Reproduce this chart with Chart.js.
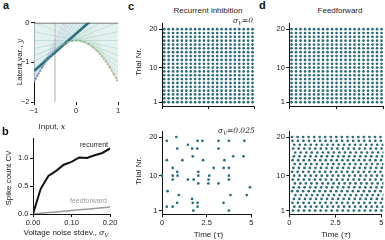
<!DOCTYPE html>
<html lang="en">
<head>
<meta charset="UTF-8">
<title>Recurrent inhibition vs feedforward</title>
<script src="https://cdn.jsdelivr.net/npm/chart.js@4.4.1/dist/chart.umd.min.js"></script>
<style>
  body { margin: 0; width: 385px; height: 240px; position: relative; background: #fff; overflow: hidden;
         font-family: 'Liberation Sans', Arial, sans-serif; color: #222; }
  canvas { position: absolute; }
  .t { position: absolute; white-space: nowrap; font-size: 8px; line-height: 1; }
  .c { transform: translate(-50%, -50%); }
  .v { transform: translate(-50%, -50%) rotate(-90deg); }
  .h { transform: translateX(-50%); }
  .lbl { position: absolute; font-weight: bold; font-size: 11px; line-height: 1; color: #111; }
  .m { font-family: 'DejaVu Serif', 'Liberation Serif', serif; font-style: italic; }
  sub { font-size: 70%; vertical-align: -1.5px; line-height: 0; }
</style>
</head>
<body>
<canvas id="pa" style="left:0;top:15px" width="125" height="116"></canvas>
<canvas id="pb" style="left:0;top:130px" width="125" height="109"></canvas>
<canvas id="pc1" style="left:125px;top:15px" width="130" height="97"></canvas>
<canvas id="pc2" style="left:125px;top:120px" width="130" height="120"></canvas>
<canvas id="pd1" style="left:255px;top:15px" width="130" height="97"></canvas>
<canvas id="pd2" style="left:255px;top:120px" width="130" height="120"></canvas>

<div class="lbl" style="left:3px;top:0px">a</div>
<div class="lbl" style="left:2px;top:126px">b</div>
<div class="lbl" style="left:128px;top:1px">c</div>
<div class="lbl" style="left:259px;top:0px">d</div>

<div class="t h" style="left:208px;top:6.5px">Recurrent inhibition</div>
<div class="t h" style="left:340px;top:6.5px">Feedforward</div>

<div class="t v" style="left:19.5px;top:62px">Latent var., <span class="m">y</span></div>
<div class="t c" style="left:52px;top:126.5px">Input, <span class="m">x</span></div>
<div class="t v" style="left:8.5px;top:178px">Spike count CV</div>
<div class="t c" style="left:66px;top:233px">Voltage noise stdev., <span class="m">σ<sub>V</sub></span></div>
<div class="t" style="left:80px;top:141px;font-size:7px">recurrent</div>
<div class="t" style="left:70px;top:197px;font-size:7px;color:#9a9a9a">feedforward</div>

<div class="t v" style="left:138.5px;top:62px">Trial Nr.</div>
<div class="t v" style="left:138.5px;top:171px">Trial Nr.</div>
<div class="t c" style="left:208.5px;top:235px">Time (<span class="m">τ</span>)</div>
<div class="t c" style="left:336px;top:235px">Time (<span class="m">τ</span>)</div>
<div class="t m" style="right:132px;top:17px;font-size:7.5px">σ<sub>V</sub>=0</div>
<div class="t m" style="left:218px;top:127px;font-size:7.5px">σ<sub>V</sub>=0.025</div>

<script>
// ---- panel a: concave readout curve, its tangents and the chosen readout line
const inputX = [-1, -0.9, -0.8, -0.7, -0.6, -0.5, -0.4, -0.3, -0.2, -0.1, 0, 0.1, 0.2, 0.3, 0.4, 0.5, 0.6, 0.7, 0.8, 0.9, 1];
const latentY = [-1.5, -1.3, -1.12, -0.96, -0.83, -0.71, -0.62, -0.54, -0.49, -0.46, -0.45, -0.46, -0.49, -0.54, -0.62, -0.71, -0.83, -0.96, -1.12, -1.3, -1.5];
// tangent at each curve point, value at x=-1 and at x=+1
const tangentAtLeft = [-1.5, -1.49, -1.46, -1.41, -1.33, -1.24, -1.12, -0.99, -0.83, -0.65, -0.45, -0.23, 0.01, 0.27, 0.56, 0.86, 1.19, 1.53, 1.90, 2.29, 2.70];
const tangentAtRight = [2.70, 2.29, 1.90, 1.53, 1.19, 0.86, 0.56, 0.27, 0.01, -0.23, -0.45, -0.65, -0.83, -0.99, -1.12, -1.24, -1.33, -1.41, -1.46, -1.49, -1.5];
const readoutX = [-1, 1];
const readoutY = [-1.22, 0.66];
const markerX = -0.5;

// ---- panel b: spike count CV vs voltage noise
const noiseSd = [0, 0.02, 0.04, 0.06, 0.08, 0.10, 0.12, 0.14, 0.16, 0.18, 0.20];
const cvRecurrent = [0, 0.45, 0.68, 0.77, 0.88, 0.93, 1.01, 1.00, 1.05, 1.09, 1.17];
const cvFeedforward = [0, 0.012, 0.025, 0.037, 0.05, 0.062, 0.075, 0.087, 0.1, 0.112, 0.125];

// ---- rasters
const trials = [1, 2, 3, 4, 5, 6, 7, 8, 9, 10, 11, 12, 13, 14, 15, 16, 17, 18, 19, 20];
const regularTimes = [0.12, 0.36, 0.6, 0.84, 1.08, 1.32, 1.56, 1.8, 2.04, 2.28, 2.52, 2.76, 3.0, 3.24, 3.48, 3.72, 3.96, 4.2, 4.44, 4.68, 4.92];
// recurrent, sigma_V = 0.025
const sparseTimes = [0.27, 0.80, 0.85, 1.45, 1.68, 1.99, 2.26, 1.97, 3.16, 3.74, 4.61, 3.16,
  0.27, 1.14, 1.72, 2.30, 3.49, 3.98, 4.56, 0.60, 2.89, 3.45, 3.74, 0.85, 2.03,
  0.00, 0.60, 0.87, 2.03, 2.64, 3.74, 0.60, 1.45, 1.77, 2.60, 3.74, 2.03, 2.59, 3.16,
  4.92, 0.31, 0.94, 3.83, 4.74, 1.68, 0.85, 1.72, 1.99, 3.44, 0.27, 0.60, 1.99, 1.75, 3.74];
const sparseTrials = [19, 20, 17, 18, 17, 19, 19, 17, 19, 19, 19, 17,
  14, 14, 15, 14, 14, 15, 15, 12, 12, 12, 12, 11, 11,
  10, 10, 10, 10, 10, 10, 9, 9, 9, 9, 9, 8, 8, 8,
  7, 6, 5, 5, 5, 4, 3, 3, 3, 3, 2, 2, 2, 1, 1];
// feedforward, sigma_V = 0.025: same regular train, shifted per trial
const noisyTimes = [0.15, 0.45, 0.75, 1.05, 1.35, 1.65, 1.95, 2.25, 2.55, 2.85, 3.15, 3.45, 3.75, 4.05, 4.35, 4.65, 4.95];
const noisyShift = [0.05, 0.12, 0.02, 0.1, 0.18, 0.0, 0.08, 0.15, 0.04, 0.11, 0.0, 0.07, 0.14, 0.03, 0.1, 0.17, 0.06, 0.12, 0.02, 0.0];

const DOT = '#286c7d';
const INK = '#111';

function tick(size) {
  return { color: '#222', font: { size: size || 7.5 }, padding: 1.5, maxRotation: 0, autoSkip: false };
}
function axis(min, max, ticks, fmt, extra) {
  return Object.assign({
    type: 'linear', min: min, max: max,
    border: { display: true, color: INK, width: 1 },
    grid: { display: true, drawOnChartArea: false, drawTicks: true, tickLength: 3, color: INK, lineWidth: 1 },
    ticks: Object.assign(tick(), { callback: fmt }),
    afterBuildTicks: s => { s.ticks = ticks.map(v => ({ value: v })); }
  }, extra || {});
}
function makeChart(id, box, datasets, xAxis, yAxis) {
  xAxis.afterFit = s => { s.height = box.xh; };
  yAxis.afterFit = s => { s.width = box.yw; };
  return new Chart(document.getElementById(id), {
    type: 'line',
    data: { datasets: datasets },
    options: {
      responsive: false, animation: false, devicePixelRatio: 1,
      layout: { autoPadding: false, padding: { top: box.pt, right: box.pr, left: 0, bottom: 0 } },
      plugins: { legend: { display: false }, tooltip: { enabled: false } },
      scales: { x: xAxis, y: yAxis }
    }
  });
}
const minus = v => String(v).replace('-', '\u2212');

// ---------- panel a
function mix(a, b, f) { return a.map((c, i) => Math.round(c + (b[i] - c) * f)); }
function tangentColor(i, alpha) {
  const f = i / (inputX.length - 1);
  const c = f < 0.5 ? mix([120, 120, 205], [100, 170, 165], f * 2) : mix([100, 170, 165], [175, 215, 155], (f - 0.5) * 2);
  return 'rgba(' + c.join(',') + ',' + alpha + ')';
}
function curveColor(i) {
  const f = i / (inputX.length - 1);
  const c = f < 0.5 ? mix([110, 125, 185], [130, 190, 125], f * 2) : mix([130, 190, 125], [195, 160, 130], (f - 0.5) * 2);
  return 'rgb(' + c.join(',') + ')';
}
const curvePts = inputX.map((x, i) => ({ x: x, y: latentY[i] }));
const aSets = [];
aSets.push({ data: curvePts, fill: 'end', backgroundColor: 'rgba(218,238,235,0.75)', borderWidth: 0, pointRadius: 0 });
aSets.push({ data: [{ x: markerX, y: -2 }, { x: markerX, y: 0 }], borderColor: '#d6d6d6', borderWidth: 2, pointRadius: 0 });
inputX.forEach((x, i) => {
  aSets.push({ data: [{ x: -1, y: tangentAtLeft[i] }, { x: 1, y: tangentAtRight[i] }],
    borderColor: tangentColor(i, 0.4), borderWidth: 0.7, pointRadius: 0 });
});
aSets.push({ data: readoutX.map((x, i) => ({ x: x, y: readoutY[i] })), borderColor: '#2a6f7f', borderWidth: 2.6, pointRadius: 0 });
aSets.push({ data: curvePts, borderWidth: 1.7, borderDash: [1.6, 1.6], pointRadius: 0,
  segment: { borderColor: ctx => curveColor(ctx.p0DataIndex) } });
aSets.push({ data: [{ x: -1, y: 0 }, { x: 1, y: 0 }], borderColor: '#555', borderWidth: 1.8, pointRadius: 0 });
aSets.reverse();

makeChart('pa', { pt: 7.7, pr: 7, yw: 34, xh: 29 }, aSets,
  axis(-1, 1, [-1, 0, 1], minus, { border: { display: false } }),
  axis(-2, 0, [-2, -1, 0], minus));

// ---------- panel b
makeChart('pb', { pt: 8.4, pr: 15, yw: 33, xh: 25 }, [
  { data: noiseSd.map((x, i) => ({ x: x, y: cvRecurrent[i] })), borderColor: '#111', borderWidth: 2, pointRadius: 0 },
  { data: noiseSd.map((x, i) => ({ x: x, y: cvFeedforward[i] })), borderColor: '#999', borderWidth: 1.5, pointRadius: 0 }
], axis(0, 0.2, [0, 0.1, 0.2], v => v.toFixed(2)),
   axis(0, 1.35, [0, 0.5, 1], v => v.toFixed(1)));

// ---------- rasters
function raster(times, rows, shift) {
  const pts = [];
  rows.forEach((r, i) => times.forEach(t => pts.push({ x: t + (shift ? shift[i] : 0), y: r })));
  return pts;
}
function dots(pts) {
  return { data: pts, showLine: false, pointRadius: 1.35, pointBackgroundColor: DOT, pointBorderWidth: 0, clip: 2 };
}
const timeFmt = v => (v === 2.5 ? '2.5' : String(v));
function timeAxis(labels) {
  const a = axis(0, 5, [0, 2.5, 5], timeFmt);
  a.ticks.display = labels;
  return a;
}
const trialAxis = () => axis(0, 21.5, [1, 10, 20], v => String(v));

makeChart('pc1', { pt: 8.4, pr: 1, yw: 37, xh: 5.4 }, [dots(raster(regularTimes, trials))], timeAxis(false), trialAxis());
makeChart('pc2', { pt: 11.2, pr: 1, yw: 37, xh: 25.6 },
  [dots(sparseTimes.map((t, i) => ({ x: t, y: sparseTrials[i] })))], timeAxis(true), trialAxis());
makeChart('pd1', { pt: 8.4, pr: 2, yw: 34.3, xh: 5.4 }, [dots(raster(regularTimes, trials))], timeAxis(false), trialAxis());
makeChart('pd2', { pt: 11.2, pr: 2, yw: 34.3, xh: 25.6 }, [dots(raster(noisyTimes, trials, noisyShift))], timeAxis(true), trialAxis());
</script>
</body>
</html>
